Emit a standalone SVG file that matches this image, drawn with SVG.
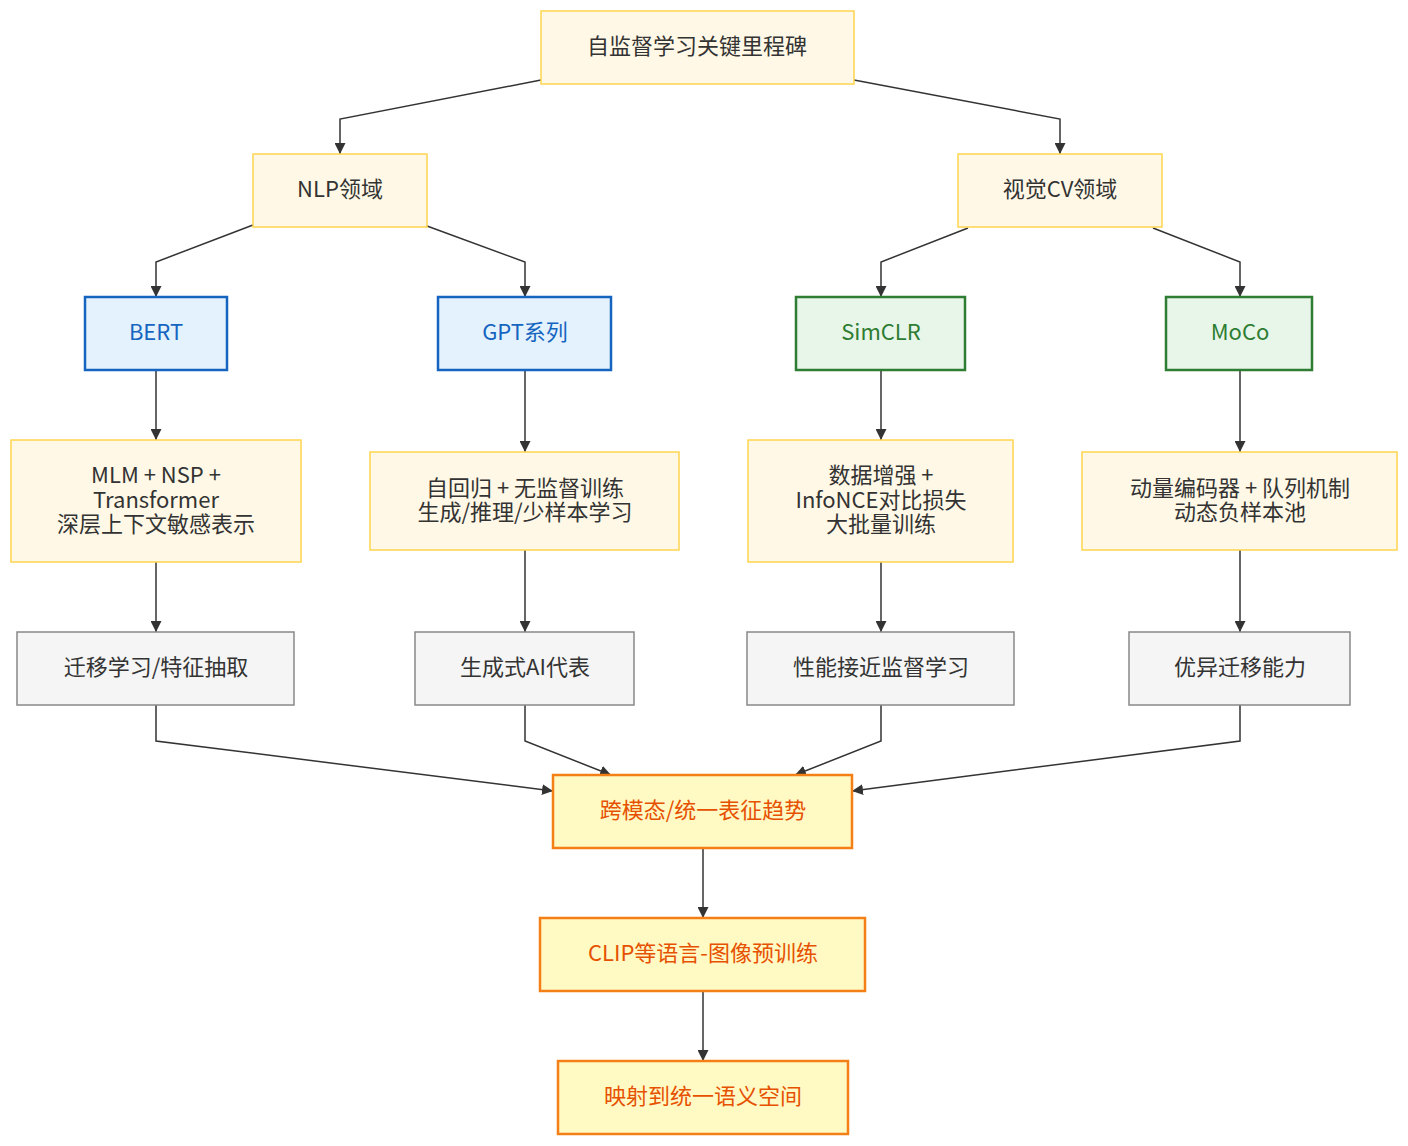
<svg xmlns="http://www.w3.org/2000/svg" width="1408" height="1146" viewBox="0 0 1408 1146">
<style>
text{font-family:"Noto Sans CJK SC","Noto Sans",sans-serif;font-size:22px;text-anchor:middle;dominant-baseline:central;fill:#333}
.cream rect{fill:#fff8e6;stroke:#ffd54f;stroke-width:1.5}
.blue rect{fill:#e3f2fd;stroke:#1565c0;stroke-width:2.5}
.blue text{fill:#1565c0}
.green rect{fill:#e8f5e9;stroke:#2e7d32;stroke-width:2.5}
.green text{fill:#2e7d32}
.gray rect{fill:#f5f5f5;stroke:#888;stroke-width:1.5}
.orange rect{fill:#fff9c4;stroke:#f57f17;stroke-width:2.5}
.orange text{fill:#e65100}
.edge{fill:none;stroke:#333;stroke-width:1.5;marker-end:url(#arr)}
</style>
<defs>
<marker id="arr" viewBox="0 0 10 10" refX="10" refY="5" markerWidth="11" markerHeight="11" markerUnits="userSpaceOnUse" orient="auto"><path d="M0,0 L10,5 L0,10 z" fill="#333"/></marker>
</defs>
<g id="edges">
<path class="edge" d="M541,80 L340,119 L340,154"/>
<path class="edge" d="M854,80 L1060,119 L1060,154"/>
<path class="edge" d="M253,225 L156,262 L156,297"/>
<path class="edge" d="M427,226 L525,262 L525,297"/>
<path class="edge" d="M968,228 L881,262 L881,297"/>
<path class="edge" d="M1153,228 L1240,262 L1240,297"/>
<path class="edge" d="M156,370 L156,440"/>
<path class="edge" d="M525,370 L525,452"/>
<path class="edge" d="M881,370 L881,440"/>
<path class="edge" d="M1240,370 L1240,452"/>
<path class="edge" d="M156,562 L156,632"/>
<path class="edge" d="M525,550 L525,632"/>
<path class="edge" d="M881,562 L881,632"/>
<path class="edge" d="M1240,550 L1240,632"/>
<path class="edge" d="M156,705 L156,741 L553,791"/>
<path class="edge" d="M525,705 L525,741 L611,775"/>
<path class="edge" d="M881,705 L881,741 L795,775"/>
<path class="edge" d="M1240,705 L1240,741 L852,791"/>
<path class="edge" d="M703,848 L703,918"/>
<path class="edge" d="M703,991 L703,1061"/>
</g>
<g id="root" class="cream"><rect x="541" y="11" width="313" height="73"/><text x="697" y="44">自监督学习关键里程碑</text></g>
<g id="nlp" class="cream"><rect x="253" y="154" width="174" height="73"/><text x="340" y="187">NLP领域</text></g>
<g id="cv" class="cream"><rect x="958" y="154" width="204" height="73"/><text x="1060" y="187">视觉CV领域</text></g>
<g id="bert" class="blue"><rect x="85" y="297" width="142" height="73"/><text x="156" y="330">BERT</text></g>
<g id="gpt" class="blue"><rect x="438" y="297" width="173" height="73"/><text x="525" y="330">GPT系列</text></g>
<g id="simclr" class="green"><rect x="796" y="297" width="169" height="73"/><text x="881" y="330">SimCLR</text></g>
<g id="moco" class="green"><rect x="1166" y="297" width="146" height="73"/><text x="1240" y="330">MoCo</text></g>
<g id="bert-desc" class="cream"><rect x="11" y="440" width="290" height="122"/><text x="156" y="473">MLM + NSP +</text><text x="156" y="498">Transformer</text><text x="156" y="522">深层上下文敏感表示</text></g>
<g id="gpt-desc" class="cream"><rect x="370" y="452" width="309" height="98"/><text x="525" y="486">自回归 + 无监督训练</text><text x="525" y="510">生成/推理/少样本学习</text></g>
<g id="simclr-desc" class="cream"><rect x="748" y="440" width="265" height="122"/><text x="881" y="473">数据增强 +</text><text x="881" y="498">InfoNCE对比损失</text><text x="881" y="522">大批量训练</text></g>
<g id="moco-desc" class="cream"><rect x="1082" y="452" width="315" height="98"/><text x="1240" y="486">动量编码器 + 队列机制</text><text x="1240" y="510">动态负样本池</text></g>
<g id="bert-res" class="gray"><rect x="17" y="632" width="277" height="73"/><text x="156" y="665">迁移学习/特征抽取</text></g>
<g id="gpt-res" class="gray"><rect x="415" y="632" width="219" height="73"/><text x="525" y="665">生成式AI代表</text></g>
<g id="simclr-res" class="gray"><rect x="747" y="632" width="267" height="73"/><text x="881" y="665">性能接近监督学习</text></g>
<g id="moco-res" class="gray"><rect x="1129" y="632" width="221" height="73"/><text x="1240" y="665">优异迁移能力</text></g>
<g id="trend" class="orange"><rect x="553" y="775" width="299" height="73"/><text x="703" y="808">跨模态/统一表征趋势</text></g>
<g id="clip" class="orange"><rect x="540" y="918" width="325" height="73"/><text x="703" y="951">CLIP等语言-图像预训练</text></g>
<g id="unify" class="orange"><rect x="558" y="1061" width="290" height="73"/><text x="703" y="1094">映射到统一语义空间</text></g>
</svg>
